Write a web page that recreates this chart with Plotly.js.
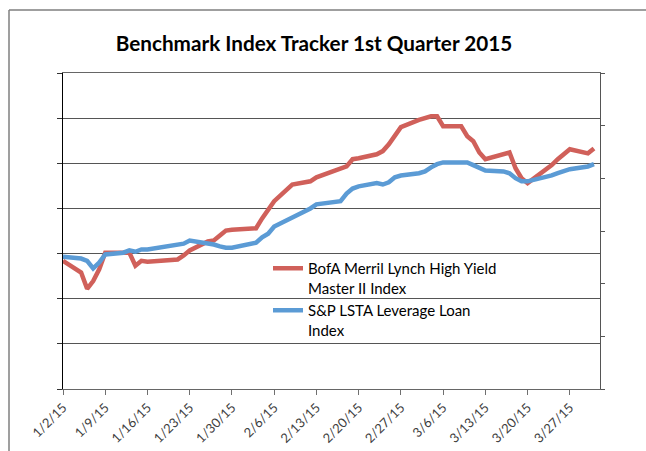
<!DOCTYPE html>
<html>
<head>
<meta charset="utf-8">
<script src="https://cdn.plot.ly/plotly-3.0.1.min.js"></script>
<style>html,body{margin:0;padding:0;background:#fff;}#chart{width:646px;height:451px;}</style>
</head>
<body>
<div id="chart"></div>
<script>
// Trading dates, Q1 2015
const dates = [
  "2015-01-02","2015-01-05","2015-01-06","2015-01-07","2015-01-08","2015-01-09",
  "2015-01-12","2015-01-13","2015-01-14","2015-01-15","2015-01-16",
  "2015-01-20","2015-01-21","2015-01-22","2015-01-23",
  "2015-01-26","2015-01-27","2015-01-28","2015-01-29","2015-01-30",
  "2015-02-02","2015-02-03","2015-02-04","2015-02-05","2015-02-06",
  "2015-02-09","2015-02-10","2015-02-11","2015-02-12","2015-02-13",
  "2015-02-17","2015-02-18","2015-02-19","2015-02-20",
  "2015-02-23","2015-02-24","2015-02-25","2015-02-26","2015-02-27",
  "2015-03-02","2015-03-03","2015-03-04","2015-03-05","2015-03-06",
  "2015-03-09","2015-03-10","2015-03-11","2015-03-12","2015-03-13",
  "2015-03-16","2015-03-17","2015-03-18","2015-03-19","2015-03-20",
  "2015-03-23","2015-03-24","2015-03-25","2015-03-26","2015-03-27",
  "2015-03-30","2015-03-31"
];

// BofA Merrill Lynch High Yield Master II Index (estimated, % change)
const highYield = [
  -0.16,-0.42,-0.78,-0.61,-0.35,0.02,
  0.02,0.02,-0.27,-0.16,-0.18,
  -0.16,-0.13,-0.04,0.07,
  0.27,0.29,0.40,0.51,0.53,
  0.56,0.56,0.78,0.98,1.16,
  1.53,1.56,1.58,1.60,1.69,
  1.89,1.93,2.09,2.11,
  2.20,2.27,2.42,2.62,2.80,
  2.96,3.00,3.04,3.04,2.82,
  2.82,2.60,2.49,2.24,2.09,
  2.22,2.24,1.89,1.67,1.56,
  1.84,1.96,2.09,2.20,2.31,
  2.22,2.33
];

// S&P LSTA Leveraged Loan Index (estimated, % change)
const levLoan = [
  -0.07,-0.11,-0.16,-0.33,-0.20,-0.02,
  0.02,0.07,0.04,0.09,0.09,
  0.16,0.20,0.22,0.29,
  0.24,0.20,0.16,0.13,0.13,
  0.20,0.24,0.36,0.44,0.60,
  0.80,0.84,0.91,1.00,1.09,
  1.16,1.33,1.44,1.49,
  1.56,1.53,1.58,1.69,1.73,
  1.78,1.82,1.91,1.98,2.02,
  2.02,2.02,1.96,1.91,1.84,
  1.82,1.78,1.67,1.60,1.60,
  1.69,1.73,1.78,1.82,1.87,
  1.93,1.98
];

const seriesNames = ["BofA Merril Lynch High Yield<br>Master II Index", "S&P LSTA Leverage Loan<br>Index"];
const titleText = "Benchmark Index Tracker 1st Quarter 2015";

const FONT = "Lato, 'Open Sans', sans-serif";

const traces = [
  {x: dates, y: highYield, name: seriesNames[0], type: "scatter", mode: "lines",
   line: {color: "#D0605A", width: 4.5}},
  {x: dates, y: levLoan, name: seriesNames[1], type: "scatter", mode: "lines",
   line: {color: "#5B9BD5", width: 4.5}},
  // empty trace so that the secondary (right) axis is drawn
  {x: [], y: [], yaxis: "y2", type: "scatter", mode: "lines", showlegend: false, hoverinfo: "skip"}
];

const pl = 63, pr = 600, pt = 73, pb = 389;
const px = v => (v - pl) / (pr - pl);
const py = v => (pb - v) / (pb - pt);

const layout = {
  width: 646, height: 451,
  margin: {l: pl, r: 646 - pr, t: pt, b: 451 - pb, pad: 0},
  paper_bgcolor: "#ffffff", plot_bgcolor: "#ffffff",
  font: {family: FONT, size: 12, color: "#000"},
  title: {text: "<b>" + titleText + "</b>", font: {family: FONT, size: 20.7, color: "#000"},
          x: 314 / 646, xanchor: "center", xref: "container", y: 1 - 44 / 451, yanchor: "middle", yref: "container"},
  showlegend: true,
  legend: {x: px(268), y: py(252), xanchor: "left", yanchor: "top", bgcolor: "rgba(0,0,0,0)",
           font: {family: FONT, size: 15, color: "#000"},
           valign: "top", itemwidth: 30, tracegroupgap: 4},
  xaxis: {type: "date", range: ["2015-01-02", "2015-04-01"], tick0: "2015-01-02", dtick: 7 * 86400000,
          tickformat: "%-m/%-d/%y", tickangle: -45, ticks: "outside", ticklen: 5, tickcolor: "#707070",
          showgrid: false, showline: true, mirror: true, linecolor: "#666666", linewidth: 1, zeroline: false,
          tickfont: {family: FONT, size: 13, color: "#404040"}},
  yaxis: {range: [-3, 4], dtick: 1, tick0: 0, showticklabels: false, ticks: "outside", ticklen: 5,
          tickcolor: "#333", showgrid: true, gridcolor: "#555555", gridwidth: 1, zeroline: false,
          showline: true, linecolor: "#000", linewidth: 1},
  yaxis2: {overlaying: "y", side: "right", range: [0, 6.003], dtick: 1, tick0: 0, showticklabels: false,
           ticks: "outside", ticklen: 4, tickcolor: "#555", showgrid: false, zeroline: false,
           showline: true, linecolor: "#555", linewidth: 1},
  shapes: [
    {type: "line", xref: "paper", yref: "paper", x0: px(9), x1: px(9), y0: py(10), y1: py(452),
     line: {color: "#7f7f7f", width: 1.5}},
    {type: "line", xref: "paper", yref: "paper", x0: px(9), x1: px(647), y0: py(10), y1: py(10),
     line: {color: "#7f7f7f", width: 1.5}}
  ]
};

Plotly.newPlot("chart", traces, layout, {displayModeBar: false, staticPlot: true});
</script>
</body>
</html>
